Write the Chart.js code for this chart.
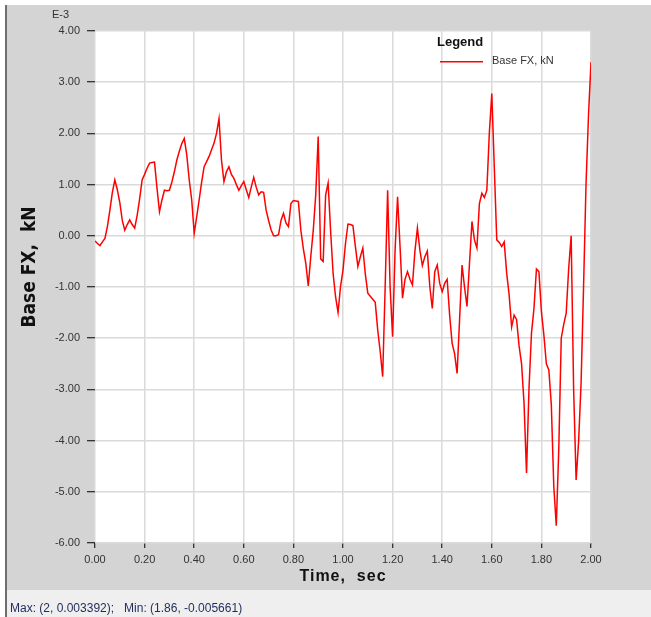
<!DOCTYPE html>
<html>
<head>
<meta charset="utf-8">
<script src="https://cdn.jsdelivr.net/npm/chart.js@4/dist/chart.umd.min.js"></script>
<style>
  html, body { margin: 0; padding: 0; background: #ffffff; }
  #wrap { position: relative; width: 651px; height: 617px; }
  canvas { display: block; }
</style>
</head>
<body>
<div id="wrap"><canvas id="c" width="651" height="617"></canvas></div>
<script>
// Base shear FX (units of 1E-3 kN) sampled every 0.01 s from 0.00 to 2.00 s
const timeStep = 0.01;
const baseFX = [
  -0.10, -0.15, -0.19, -0.12, -0.05, 0.18, 0.50, 0.85, 1.09, 0.90,
  0.65, 0.30, 0.11, 0.22, 0.31, 0.22, 0.15, 0.40, 0.72, 1.09,
  1.20, 1.32, 1.42, 1.43, 1.44, 0.93, 0.47, 0.70, 0.89, 0.88,
  0.89, 1.05, 1.25, 1.48, 1.65, 1.80, 1.90, 1.58, 1.09, 0.70,
  0.05, 0.37, 0.70, 1.05, 1.35, 1.45, 1.55, 1.68, 1.81, 2.00,
  2.29, 1.48, 1.06, 1.25, 1.35, 1.20, 1.12, 1.00, 0.89, 0.98,
  1.06, 0.90, 0.75, 0.95, 1.14, 0.95, 0.80, 0.86, 0.85, 0.50,
  0.30, 0.12, 0.00, 0.00, 0.02, 0.30, 0.44, 0.25, 0.18, 0.63,
  0.69, 0.68, 0.67, 0.11, -0.25, -0.54, -0.98, -0.41, 0.10, 0.80,
  1.94, -0.45, -0.50, 0.80, 1.03, 0.10, -0.73, -1.19, -1.50, -0.99,
  -0.67, -0.15, 0.23, 0.22, 0.20, -0.21, -0.60, -0.41, -0.24, -0.75,
  -1.12, -1.18, -1.24, -1.30, -1.84, -2.26, -2.75, -1.00, 0.89, -1.00,
  -1.97, -0.28, 0.76, -0.21, -1.22, -0.85, -0.70, -0.85, -0.96, -0.30,
  0.15, -0.28, -0.58, -0.41, -0.30, -0.99, -1.42, -0.70, -0.57, -0.93,
  -1.09, -0.93, -0.85, -1.55, -2.10, -2.30, -2.69, -1.65, -0.57, -1.00,
  -1.38, -0.54, 0.28, -0.08, -0.24, 0.63, 0.83, 0.75, 0.89, 2.00,
  2.78, 1.35, -0.08, -0.13, -0.21, -0.12, -0.73, -1.16, -1.78, -1.55,
  -1.64, -2.15, -2.50, -3.27, -4.63, -2.98, -1.90, -1.42, -0.65, -0.70,
  -1.48, -1.94, -2.50, -2.62, -3.30, -4.90, -5.661, -4.18, -2.00, -1.73,
  -1.51, -0.64, 0.00, -3.00, -4.77, -4.02, -2.88, -1.00, 1.02, 2.36,
  3.392
];
const timeValues = baseFX.map((_, i) => +(i * timeStep).toFixed(2));

const xRange = [0, 2];
const xStep = 0.2;
const yRange = [-6, 4];
const yStep = 1;

const seriesLabel = 'Base FX, kN';
const xTitle = 'Time,  sec';
const yTitle = 'Base FX,  kN';
const yExponent = 'E-3';
const legendTitle = 'Legend';
const statusText = 'Max: (2, 0.003392);   Min: (1.86, -0.005661)';

const points = timeValues.map((t, i) => ({ x: t, y: baseFX[i] }));

const PANEL = '#d4d4d4';
const TEXT = '#333333';
const SERIES_COLOR = '#ff0000';

// Window frame, white plot area, titles, legend and status line
const framePlugin = {
  id: 'frame',
  beforeDraw(chart) {
    const { ctx, chartArea: a, width, height } = chart;
    ctx.save();
    ctx.fillStyle = '#ffffff';
    ctx.fillRect(0, 0, width, height);
    ctx.fillStyle = PANEL;
    ctx.fillRect(7, 5, width - 7, 585);
    ctx.fillStyle = '#efefef';
    ctx.fillRect(7, 590, width - 7, height - 590);
    ctx.fillStyle = '#6e6e6e';
    ctx.fillRect(5, 5, 2, height - 5);
    ctx.fillStyle = '#ffffff';
    ctx.fillRect(a.left, a.top, a.right - a.left, a.bottom - a.top);
    ctx.restore();
  },
  afterDraw(chart) {
    const { ctx, chartArea: a } = chart;
    ctx.save();
    ctx.fillStyle = TEXT;
    ctx.font = '11px "Liberation Sans", Arial, sans-serif';
    ctx.textAlign = 'left';
    ctx.textBaseline = 'middle';
    ctx.fillText(yExponent, 52, 15);

    // axis titles
    ctx.fillStyle = '#111111';
    ctx.font = 'bold 16px "Liberation Sans", Arial, sans-serif';
    ctx.textAlign = 'center';
    ctx.letterSpacing = '1px';
    ctx.fillText(xTitle, (a.left + a.right) / 2, 577);
    ctx.letterSpacing = '0px';
    ctx.save();
    ctx.translate(30, 267);
    ctx.rotate(-Math.PI / 2);
    ctx.font = 'bold 19px "Liberation Sans Narrow", "DejaVu Sans Condensed", sans-serif';
    ctx.fillText(yTitle, 0, 0);
    ctx.restore();

    // legend block
    ctx.fillStyle = '#111111';
    ctx.font = 'bold 13px "Liberation Sans", Arial, sans-serif';
    ctx.textAlign = 'left';
    ctx.fillText(legendTitle, 437, 42);
    ctx.fillStyle = SERIES_COLOR;
    ctx.fillRect(440, 61, 43, 1.5);
    ctx.fillStyle = TEXT;
    ctx.font = '11px "Liberation Sans", Arial, sans-serif';
    ctx.fillText(seriesLabel, 492, 61);

    // status line
    ctx.fillStyle = '#1f2b5c';
    ctx.font = '12px "Liberation Sans", Arial, sans-serif';
    ctx.fillText(statusText, 10, 609);
    ctx.restore();
  }
};

new Chart(document.getElementById('c'), {
  type: 'line',
  data: {
    datasets: [{
      label: seriesLabel,
      data: points,
      borderColor: SERIES_COLOR,
      borderWidth: 1.5,
      pointRadius: 0,
      tension: 0,
      fill: false
    }]
  },
  options: {
    responsive: false,
    animation: false,
    devicePixelRatio: 1,
    layout: { padding: { left: 0, top: 31, right: 60, bottom: 0 } },
    plugins: { legend: { display: false }, tooltip: { enabled: false } },
    scales: {
      x: {
        type: 'linear',
        min: xRange[0],
        max: xRange[1],
        afterFit(s) { s.height = 74; },
        border: { display: false },
        grid: { color: '#dadada', lineWidth: 1.5, tickColor: '#000000', tickLength: 5, tickWidth: 1 },
        ticks: {
          stepSize: xStep,
          padding: 5,
          color: TEXT,
          font: { family: '"Liberation Sans", Arial, sans-serif', size: 11 },
          maxRotation: 0,
          callback: v => Number(v).toFixed(2)
        }
      },
      y: {
        min: yRange[0],
        max: yRange[1],
        afterFit(s) { s.width = 95; },
        border: { display: false },
        grid: { color: '#dadada', lineWidth: 1.5, tickColor: '#000000', tickLength: 8, tickWidth: 1 },
        ticks: {
          stepSize: yStep,
          padding: 7,
          color: TEXT,
          font: { family: '"Liberation Sans", Arial, sans-serif', size: 11 },
          callback: v => Number(v).toFixed(2)
        }
      }
    }
  },
  plugins: [framePlugin]
});
</script>
</body>
</html>
